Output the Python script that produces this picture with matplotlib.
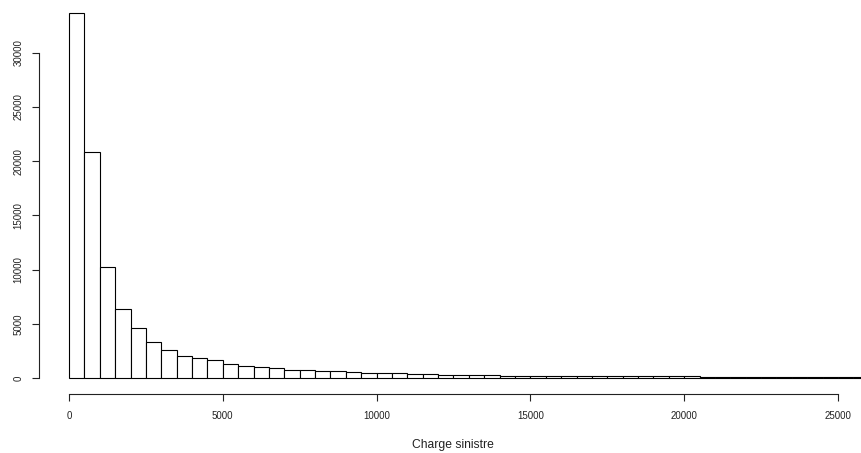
import matplotlib
matplotlib.use("Agg")
import matplotlib.pyplot as plt
import numpy as np

# Histogram of claim amounts ("Charge sinistre"), bins of width 500
bin_width = 500
counts = [
    33700, 20880, 10270, 6320, 4630, 3340, 2550, 2055, 1840, 1626,
    1320, 1135, 1030, 900, 775, 770, 680, 675, 570, 475,
    470, 465, 380, 375, 320, 315, 310, 235, 230, 225,
    220, 215, 160, 158, 156, 155, 154, 152, 150, 150,
    148, 95, 92, 90, 88, 86, 84, 82, 80, 80,
    78, 76,
]
bin_starts = [i * bin_width for i in range(len(counts))]

x_ticks = [0, 5000, 10000, 15000, 20000, 25000]
y_ticks = [0, 5000, 10000, 15000, 20000, 25000, 30000]
x_label = "Charge sinistre"

plt.rcParams['font.family'] = ['Liberation Sans', 'DejaVu Sans']

W, H = 861, 453
fig = plt.figure(figsize=(W / 100, H / 100), dpi=100)
ax = fig.add_axes([39 / W, 59 / H, 822 / W, 394 / H])

ax.bar(bin_starts, counts, width=bin_width, align='edge',
       facecolor='white', edgecolor='black', linewidth=0.8)

ax.set_xlim(-975, 25748)
ax.set_ylim(-1476, 34861)

for s in ['top', 'right']:
    ax.spines[s].set_visible(False)
ax.spines['left'].set_bounds(0, 30000)
ax.spines['bottom'].set_bounds(0, 25000)
for s in ['left', 'bottom']:
    ax.spines[s].set_linewidth(0.8)
    ax.spines[s].set_color('#222222')

ax.set_xticks(x_ticks)
ax.set_xticklabels([str(v) for v in x_ticks])
ax.set_yticks(y_ticks)
ax.set_yticklabels([str(v) for v in y_ticks])

ax.tick_params(axis='both', direction='out', length=5, width=0.8,
               colors='#222222', labelsize=7)
ax.tick_params(axis='x', pad=7)
ax.tick_params(axis='y', pad=6)
for lbl in ax.get_yticklabels():
    lbl.set_rotation(90)
    lbl.set_va('center')
    lbl.set_ha('right')

ax.set_xlabel(x_label, fontsize=8.7, color='#222222')
ax.xaxis.set_label_coords((453 - 39) / 822, -(445 - 394) / 394)
ax.xaxis.label.set_va('center')

fig.savefig("out.png", dpi=100)
